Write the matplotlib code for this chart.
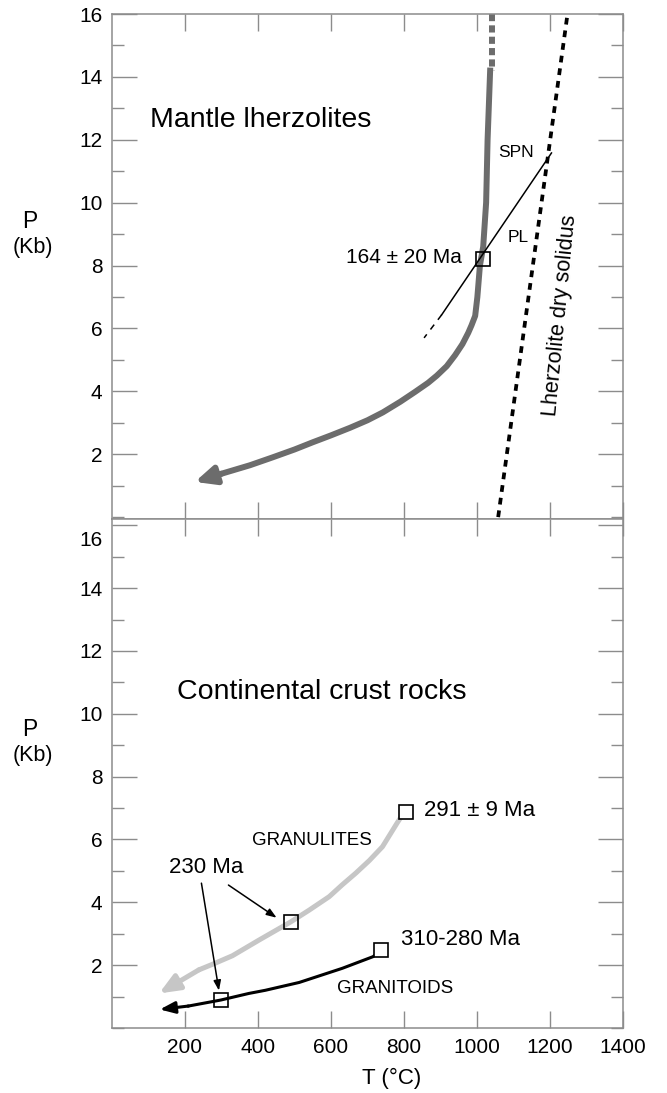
import numpy as np
import matplotlib
matplotlib.use('Agg')
import matplotlib.pyplot as plt
import matplotlib.transforms as mtransforms
from matplotlib.ticker import MultipleLocator

plt.rcParams['font.family'] = ['Liberation Sans', 'DejaVu Sans']

# --- top panel: mantle lherzolites (T in C, P in kb)
mantle_dash_T = [1040, 1040]
mantle_dash_P = [16.0, 14.2]
mantle_T = [1036, 1029, 1025, 1017, 1008, 1001, 995, 985, 976, 960, 940, 917, 890, 866, 830, 790, 742, 700, 652, 600, 550, 500, 440, 378, 300]
mantle_P = [14.2, 12.0, 10.0, 8.6, 8.0, 7.0, 6.4, 6.1, 5.86, 5.5, 5.15, 4.8, 4.5, 4.27, 3.98, 3.67, 3.33, 3.08, 2.84, 2.6, 2.38, 2.15, 1.9, 1.65, 1.38]
mantle_tip = (227, 1.12)

spn_T = [1204, 903]
spn_P = [11.58, 6.43]
spn_dash_T = [903, 855]
spn_dash_P = [6.43, 5.7]

solidus_T = [1058, 1248]
solidus_P = [0, 16]

age_mantle = (1016, 8.22)

# --- bottom panel: continental crust rocks
gran_T = [800, 782, 741, 705, 668, 630, 595, 540, 490, 445, 403, 330, 280, 238]
gran_P = [6.86, 6.54, 5.77, 5.33, 4.93, 4.55, 4.18, 3.75, 3.38, 3.08, 2.8, 2.3, 2.05, 1.85]
gran_tip = (129, 1.10)

grt_T = [738, 715, 631, 513, 420, 375, 298, 210]
grt_P = [2.48, 2.27, 1.9, 1.45, 1.2, 1.1, 0.89, 0.7]
grt_tip = (131, 0.59)

sq_end = [(805, 6.86), (738, 2.48)]       # 291 +- 9 Ma, 310-280 Ma
sq_230 = [(490, 3.38), (298, 0.89)]

xticks = [200, 400, 600, 800, 1000, 1200, 1400]
yticks = [2, 4, 6, 8, 10, 12, 14, 16]

W, H = 667, 1093
fig = plt.figure(figsize=(W / 100, H / 100), dpi=100)
ax1 = fig.add_axes([112 / W, 1 - 519 / H, 511 / W, 505 / H])
ax2 = fig.add_axes([112 / W, 1 - 1028 / H, 511 / W, 509 / H])

spine_c = '#8c8c8c'
for ax in (ax1, ax2):
    ax.set_xlim(0, 1400)
    ax.set_xticks(xticks)
    ax.set_yticks(yticks)
    ax.yaxis.set_minor_locator(MultipleLocator(1))
    ax.tick_params(axis='y', which='major', direction='in', length=18, width=1,
                   color=spine_c, left=True, right=True, labelsize=15, pad=7)
    ax.tick_params(axis='y', which='minor', direction='in', length=8.5, width=1,
                   color=spine_c, left=True, right=True)
    ax.tick_params(axis='x', which='major', direction='in', length=12, width=1,
                   color=spine_c, top=True, bottom=True, labelsize=15, pad=7)
    for s in ax.spines.values():
        s.set_color(spine_c)
        s.set_linewidth(1.1)

ax1.set_ylim(-0.06, 16.0)
ax2.set_ylim(0, 16.2)
ax1.tick_params(axis='x', labelbottom=False)

# ---- top panel drawing
gray_dark = '#6c6c6c'
ax1.plot(mantle_dash_T, mantle_dash_P, color=gray_dark, lw=4.3, dashes=(1.2, 0.7), solid_capstyle='butt')
ax1.plot(mantle_T, mantle_P, color=gray_dark, lw=4.3, solid_joinstyle='round')
ax1.annotate('', xy=mantle_tip, xytext=(mantle_T[-1], mantle_P[-1]),
             arrowprops=dict(arrowstyle='-|>,head_length=1.2,head_width=0.55',
                             color=gray_dark, lw=4.3, shrinkA=0, shrinkB=0))
ax1.plot(spn_T, spn_P, color='black', lw=1.1)
ax1.plot(spn_dash_T, spn_dash_P, color='black', lw=1.1, dashes=(4, 4))
ax1.plot(solidus_T, solidus_P, color='black', lw=2.7, dashes=(1.8, 1.6))
ax1.plot(*age_mantle, marker='s', ms=10.5, mfc='none', mec='black', mew=1.2)

ax1.text(104, 12.42, 'Mantle lherzolites', fontsize=20.5, va='baseline', ha='left')
ax1.text(1106, 11.61, 'SPN', fontsize=12.5, ha='center', va='center')
ax1.text(1113, 8.88, 'PL', fontsize=12.5, ha='center', va='center')
ax1.text(958, 8.25, '164 ± 20 Ma', fontsize=15, ha='right', va='center')
ax1.text(1227, 6.4, 'Lherzolite dry solidus', fontsize=15.5, ha='center', va='center',
         rotation=84.5, rotation_mode='anchor')

# ---- bottom panel drawing
gray_light = '#c6c6c6'
ax2.plot(gran_T, gran_P, color=gray_light, lw=3.6, solid_joinstyle='round', solid_capstyle='round')
ax2.annotate('', xy=gran_tip, xytext=(gran_T[-1], gran_P[-1]),
             arrowprops=dict(arrowstyle='-|>,head_length=1.2,head_width=0.5',
                             color=gray_light, lw=3.6, shrinkA=0, shrinkB=0))
ax2.plot(grt_T, grt_P, color='black', lw=2.2, solid_joinstyle='round')
ax2.annotate('', xy=grt_tip, xytext=(grt_T[-1], grt_P[-1]),
             arrowprops=dict(arrowstyle='-|>,head_length=0.9,head_width=0.35',
                             color='black', lw=2.2, shrinkA=0, shrinkB=0))
for t, p in sq_end:
    ax2.plot(t, p, marker='s', ms=10.5, mfc='white', mec='black', mew=1.2, zorder=5)
for t, p in sq_230:
    ax2.plot(t, p, marker='s', ms=10.5, mfc='none', mec='black', mew=1.2, zorder=5)

# arrows from the 230 Ma label
ax2.annotate('', xy=(293, 1.19), xytext=(245, 4.61),
             arrowprops=dict(arrowstyle='-|>,head_length=0.6,head_width=0.22',
                             color='black', lw=1.1, shrinkA=0, shrinkB=0))
ax2.annotate('', xy=(451, 3.51), xytext=(319, 4.55),
             arrowprops=dict(arrowstyle='-|>,head_length=0.6,head_width=0.22',
                             color='black', lw=1.1, shrinkA=0, shrinkB=0))

ax2.text(178, 10.48, 'Continental crust rocks', fontsize=20.5, va='baseline', ha='left')
ax2.text(257, 5.12, '230 Ma', fontsize=16, ha='center', va='center')
ax2.text(855, 6.91, '291 ± 9 Ma', fontsize=16, ha='left', va='center')
ax2.text(793, 2.82, '310-280 Ma', fontsize=16, ha='left', va='center')
ax2.text(549, 5.96, 'GRANULITES', fontsize=13.5, ha='center', va='center')
ax2.text(776, 1.27, 'GRANITOIDS', fontsize=13.5, ha='center', va='center')

# the "16" label of the lower panel sits a little below its tick
for lb in ax2.get_yticklabels():
    if lb.get_text() == '16':
        lb.set_transform(lb.get_transform() + mtransforms.ScaledTranslation(0, -13 / 100, fig.dpi_scale_trans))

fig.text(392 / W, 1 - 1078 / H, 'T (°C)', fontsize=16, ha='center', va='center')

for yp in (221, 730):
    fig.text(30 / W, 1 - yp / H, 'P', fontsize=16.5, ha='center', va='center')
    fig.text(33 / W, 1 - (yp + 26) / H, '(Kb)', fontsize=15.5, ha='center', va='center')

fig.savefig('out.png', dpi=100)
